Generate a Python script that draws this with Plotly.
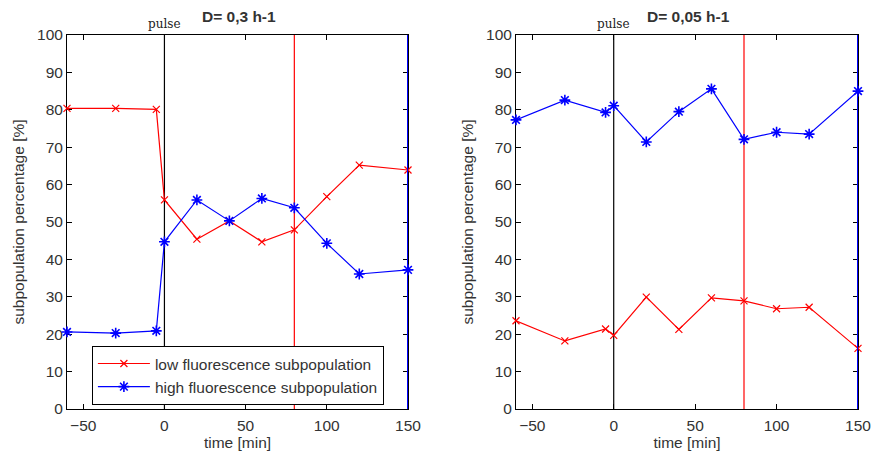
import plotly.graph_objects as go

# ---- data ----
time_left = [-60, -30, -5, 0, 20, 40, 60, 80, 100, 120, 150]
low_left = [80.4, 80.4, 80.1, 55.9, 45.4, 50.3, 44.7, 47.9, 56.8, 65.2, 63.9]
high_left = [20.6, 20.3, 20.9, 44.7, 55.9, 50.3, 56.3, 53.8, 44.3, 36.1, 37.2]

time_right = [-60, -30, -5, 0, 20, 40, 60, 80, 100, 120, 150]
low_right = [23.6, 18.2, 21.4, 19.7, 29.9, 21.3, 29.7, 28.9, 26.8, 27.2, 16.2]
high_right = [77.3, 82.6, 79.3, 81.1, 71.4, 79.5, 85.6, 72.1, 74.0, 73.5, 85.0]

titles = ["D= 0,3 h-1", "D= 0,05 h-1"]
pulse_time = 0
red_marker_time = 80
blue_marker_time = 150
y_span = [0, 100]
x_ticks = [-50, 0, 50, 100, 150]
y_ticks = list(range(0, 101, 10))
legend_names = ["low fluorescence subpopulation", "high fluorescence subpopulation"]

RED = "#ff0000"
BLUE = "#0000ff"
TXT = "#333333"
FONT = "Liberation Sans, Arial, sans-serif"
FS = 15.5

fig = go.Figure()

panels = [
    ("x", "y", time_left, low_left, high_left, True),
    ("x2", "y2", time_right, low_right, high_right, False),
]

for xa, ya, t, lo, hi, show in panels:
    # vertical reference lines
    fig.add_trace(go.Scatter(x=[pulse_time, pulse_time], y=y_span, mode="lines",
                             line=dict(color="#000000", width=1.2), xaxis=xa, yaxis=ya,
                             showlegend=False, hoverinfo="skip"))
    fig.add_trace(go.Scatter(x=[red_marker_time, red_marker_time], y=y_span, mode="lines",
                             line=dict(color=RED, width=1.2), xaxis=xa, yaxis=ya,
                             showlegend=False, hoverinfo="skip"))
    fig.add_shape(type="line", xref=xa, yref=ya, x0=blue_marker_time, x1=blue_marker_time,
                  y0=y_span[0], y1=y_span[1], layer="above",
                  line=dict(color=BLUE, width=2))
    fig.add_trace(go.Scatter(x=t, y=lo, mode="lines+markers", name=legend_names[0],
                             line=dict(color=RED, width=1.2),
                             marker=dict(symbol="x-thin-open", size=7, color=RED,
                                         line=dict(color=RED, width=1.2)),
                             xaxis=xa, yaxis=ya, showlegend=show, cliponaxis=False))
    fig.add_trace(go.Scatter(x=t, y=hi, mode="lines+markers", name=legend_names[1],
                             line=dict(color=BLUE, width=1.2),
                             marker=dict(symbol="asterisk-open", size=9, color=BLUE,
                                         line=dict(color=BLUE, width=1.6)),
                             xaxis=xa, yaxis=ya, showlegend=show, cliponaxis=False))

H = 454
W = 872
ydom = [(H - 409) / H, (H - 35) / H]
xdom1 = [67 / W, 408 / W]
xdom2 = [516 / W, 858 / W]

axis_common = dict(showline=True, linecolor="#000000", linewidth=1, mirror="ticks",
                   ticks="inside", ticklen=5, tickcolor="#000000", showgrid=False,
                   zeroline=False, automargin=False, layer="below traces",
                   tickfont=dict(family=FONT, size=FS, color=TXT))

xcommon = dict(axis_common, range=[-60, 150], tickvals=x_ticks, ticklabelstandoff=2,
               title=dict(text="time [min]", font=dict(family=FONT, size=FS, color=TXT),
                          standoff=3))
ycommon = dict(axis_common, range=[0, 100], tickvals=y_ticks,
               title=dict(text="subpopulation percentage [%]",
                          font=dict(family=FONT, size=FS, color=TXT), standoff=8))

fig.update_layout(
    width=W, height=H,
    margin=dict(l=0, r=0, t=0, b=0),
    paper_bgcolor="white", plot_bgcolor="white",
    xaxis=dict(xcommon, domain=xdom1, anchor="y"),
    yaxis=dict(ycommon, domain=ydom, anchor="x"),
    xaxis2=dict(xcommon, domain=xdom2, anchor="y2"),
    yaxis2=dict(ycommon, domain=ydom, anchor="x2"),
    legend=dict(x=91.7 / W, y=(H - 345.7) / H, xanchor="left", yanchor="top",
                bgcolor="white", bordercolor="#000000", borderwidth=1.2,
                font=dict(family=FONT, size=FS, color=TXT), tracegroupgap=0,
                itemwidth=52),
    showlegend=True,
)

# titles and pulse labels
for i, (xr, yr) in enumerate([("x", "y"), ("x2", "y2")]):
    xd = xdom1 if i == 0 else xdom2
    fig.add_annotation(text="<b>" + titles[i] + "</b>", xref="paper", yref="paper",
                       x=(xd[0] + xd[1]) / 2 + 0.002, y=(H - 16) / H, showarrow=False,
                       font=dict(family=FONT, size=FS, color=TXT),
                       xanchor="center", yanchor="middle")
    fig.add_annotation(text="pulse", xref=xr, yref="paper", x=pulse_time,
                       y=(H - 24) / H, showarrow=False,
                       font=dict(family="DejaVu Serif, Liberation Serif, serif", size=12,
                                 color="#222222"),
                       xanchor="center", yanchor="middle")

fig.write_html("out.html")
